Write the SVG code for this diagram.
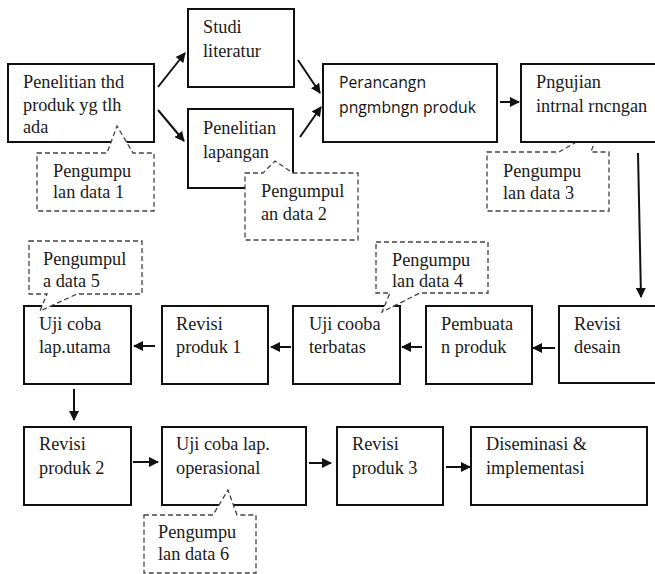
<svg xmlns="http://www.w3.org/2000/svg" width="655" height="574" viewBox="0 0 655 574">
  <style>
    .box { fill: #ffffff; stroke: #111111; stroke-width: 2; }
    .note { fill: #ffffff; stroke: #444444; stroke-width: 1.3; stroke-dasharray: 5 3; }
    .note-open { fill: none; stroke: #444444; stroke-width: 1.3; stroke-dasharray: 5 3; }
    .t { font-family: 'Liberation Serif', 'Times New Roman', serif; font-size: 18.3px; fill: #1a1a1a; }
    .s { font-family: 'Open Sans', 'Noto Sans', sans-serif; font-size: 16px; fill: #111111; }
    .link { fill: none; stroke: #111111; stroke-width: 2; marker-end: url(#head); }
  </style>
  <defs>
    <marker id="head" viewBox="0 0 10 10" refX="9" refY="5" markerUnits="userSpaceOnUse" markerWidth="10" markerHeight="10" orient="auto">
      <path d="M0,0 L10,5 L0,10 Z" fill="#111111"/>
    </marker>
  </defs>
  <rect width="655" height="574" fill="#ffffff"/>

  <g font-family="'Liberation Serif', 'Times New Roman', serif" font-size="18.3">
  <!-- data collection note 3 sits behind its box, its tail shows through -->
  <g id="note-data-3">
    <path class="note-open" d="M487,152 H559 L599,129 L591,152 H609 V211 H487 Z"/>
    <text class="t" x="503" y="177">Pengumpu</text>
    <text class="t" x="503" y="199">lan data 3</text>
  </g>

  <!-- row 1 -->
  <g id="node-penelitian-produk">
    <rect class="box" x="8" y="64" width="146" height="78"/>
    <text class="t" x="23" y="88">Penelitian thd</text>
    <text class="t" x="23" y="111">produk yg tlh</text>
    <text class="t" x="23" y="133">ada</text>
  </g>
  <g id="node-studi-literatur">
    <rect class="box" x="188" y="9" width="106" height="78"/>
    <text class="t" x="203" y="33">Studi</text>
    <text class="t" x="203" y="57">literatur</text>
  </g>
  <g id="node-penelitian-lapangan">
    <rect class="box" x="188" y="109" width="105" height="79"/>
    <text class="t" x="203" y="134">Penelitian</text>
    <text class="t" x="203" y="158">lapangan</text>
  </g>
  <g id="node-perancangan">
    <rect class="box" x="323" y="64" width="174" height="78"/>
    <text class="s" x="339" y="88" font-family="'Open Sans', 'Noto Sans', sans-serif" textLength="87" lengthAdjust="spacingAndGlyphs">Perancangn</text>
    <text class="s" x="339" y="113" font-family="'Open Sans', 'Noto Sans', sans-serif" textLength="137" lengthAdjust="spacingAndGlyphs">pngmbngn produk</text>
  </g>
  <g id="node-pengujian-internal">
    <path class="box" d="M670,64 H521 V142 H670"/>
    <text class="t" x="536" y="88">Pngujian</text>
    <text class="t" x="536" y="112">intrnal rncngan</text>
  </g>

  <!-- row 2 -->
  <g id="node-revisi-desain">
    <path class="box" d="M670,306 H559 V383 H670"/>
    <text class="t" x="574" y="330">Revisi</text>
    <text class="t" x="574" y="353">desain</text>
  </g>
  <g id="node-pembuatan">
    <rect class="box" x="426" y="306" width="106" height="78"/>
    <text class="t" x="441" y="330">Pembuata</text>
    <text class="t" x="441" y="353">n produk</text>
  </g>
  <g id="node-uji-terbatas">
    <rect class="box" x="293" y="306" width="107" height="78"/>
    <text class="t" x="309" y="330">Uji cooba</text>
    <text class="t" x="309" y="353">terbatas</text>
  </g>
  <g id="node-revisi-1">
    <rect class="box" x="162" y="306" width="106" height="78"/>
    <text class="t" x="176" y="330">Revisi</text>
    <text class="t" x="176" y="353">produk 1</text>
  </g>
  <g id="node-uji-utama">
    <rect class="box" x="24" y="306" width="107" height="78"/>
    <text class="t" x="39" y="330">Uji coba</text>
    <text class="t" x="39" y="353">lap.utama</text>
  </g>

  <!-- row 3 -->
  <g id="node-revisi-2">
    <rect class="box" x="24" y="427" width="107" height="78"/>
    <text class="t" x="39" y="450">Revisi</text>
    <text class="t" x="39" y="474">produk 2</text>
  </g>
  <g id="node-uji-operasional">
    <rect class="box" x="162" y="427" width="144" height="78"/>
    <text class="t" x="176" y="450">Uji coba lap.</text>
    <text class="t" x="176" y="474">operasional</text>
  </g>
  <g id="node-revisi-3">
    <rect class="box" x="337" y="427" width="106" height="78"/>
    <text class="t" x="352" y="450">Revisi</text>
    <text class="t" x="352" y="474">produk 3</text>
  </g>
  <g id="node-diseminasi">
    <rect class="box" x="471" y="427" width="176" height="78"/>
    <text class="t" x="486" y="450">Diseminasi &amp;</text>
    <text class="t" x="486" y="474">implementasi</text>
  </g>

  <!-- data collection notes drawn over their boxes -->
  <g id="note-data-1">
    <path class="note" d="M37,153 H107 L117,126 L133,153 H154 V211 H37 Z"/>
    <text class="t" x="53" y="177">Pengumpu</text>
    <text class="t" x="53" y="198">lan data 1</text>
  </g>
  <g id="note-data-2">
    <path class="note" d="M245,173 H263 L275,161 L293,173 H358 V240 H245 Z"/>
    <text class="t" x="261" y="197">Pengumpul</text>
    <text class="t" x="261" y="220">an data 2</text>
  </g>
  <g id="note-data-4">
    <path class="note" d="M376,242 H488 V293 H420 L382,312 L390,293 H376 Z"/>
    <text class="t" x="392" y="266">Pengumpu</text>
    <text class="t" x="392" y="287">lan data 4</text>
  </g>
  <g id="note-data-5">
    <path class="note" d="M29,241 H142 V294 H77 L40,311 L47,294 H29 Z"/>
    <text class="t" x="43" y="265">Pengumpul</text>
    <text class="t" x="43" y="287">a data 5</text>
  </g>
  <g id="note-data-6">
    <path class="note" d="M144,515 H213 L228,490 L237,515 H256 V573 H144 Z"/>
    <text class="t" x="158" y="538">Pengumpu</text>
    <text class="t" x="158" y="560">lan data 6</text>
  </g>
  </g>

  <!-- connectors -->
  <g id="connectors">
    <line class="link" x1="158" y1="87" x2="185" y2="53"/>
    <line class="link" x1="158" y1="110" x2="184" y2="141"/>
    <line class="link" x1="298" y1="60" x2="320" y2="93"/>
    <line class="link" x1="300" y1="137" x2="321" y2="107"/>
    <line class="link" x1="500" y1="102" x2="519" y2="102"/>
    <line class="link" x1="638" y1="153" x2="641" y2="297"/>
    <line class="link" x1="555" y1="348" x2="533" y2="348"/>
    <line class="link" x1="422" y1="347" x2="402" y2="347"/>
    <line class="link" x1="291" y1="347" x2="271" y2="347"/>
    <line class="link" x1="155" y1="346" x2="134" y2="346"/>
    <line class="link" x1="74" y1="389" x2="74" y2="420"/>
    <line class="link" x1="133" y1="462" x2="158" y2="462"/>
    <line class="link" x1="309" y1="463" x2="331" y2="463"/>
    <line class="link" x1="446" y1="467" x2="470" y2="467"/>
  </g>
</svg>
